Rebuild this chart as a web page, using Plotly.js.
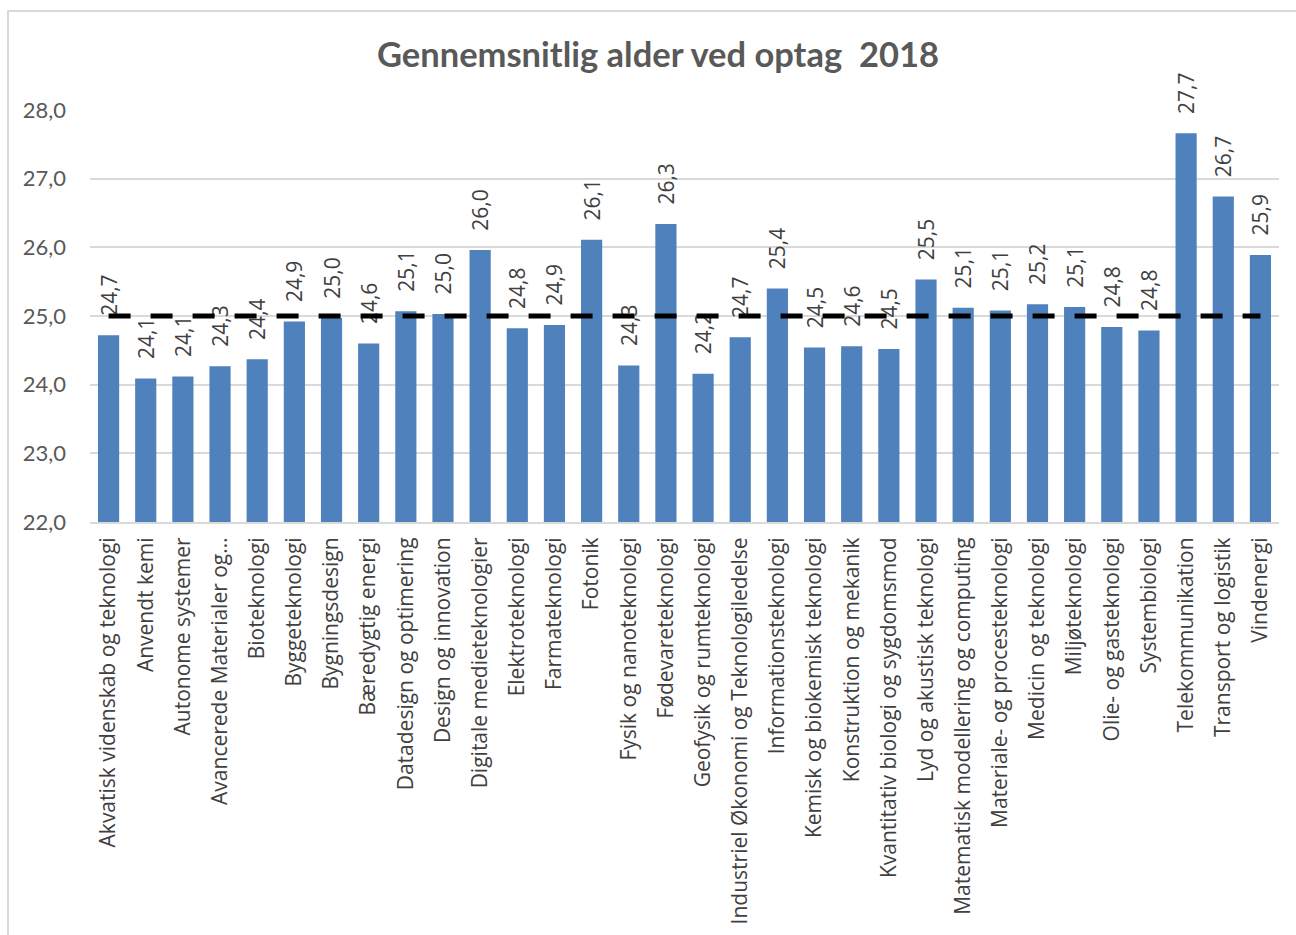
<!DOCTYPE html>
<html>
<head>
<meta charset="utf-8">
<script src="https://cdn.plot.ly/plotly-3.0.1.min.js"></script>
<style>
  html, body { margin: 0; padding: 0; background: #ffffff; }
  #wrap { position: relative; width: 1296px; height: 935px; overflow: hidden; }
  #chart { width: 1296px; height: 935px; }
  #frame { position: absolute; left: 7px; top: 10px; width: 1310px; height: 940px;
           border: 2px solid #d9d9d9; box-sizing: border-box; pointer-events: none; }
</style>
</head>
<body>
<div id="wrap">
  <div id="chart"></div>
  <div id="frame"></div>
</div>
<script>
const categories = [
  "Akvatisk videnskab og teknologi",
  "Anvendt kemi",
  "Autonome systemer",
  "Avancerede Materialer og…",
  "Bioteknologi",
  "Byggeteknologi",
  "Bygningsdesign",
  "Bæredygtig energi",
  "Datadesign og optimering",
  "Design og innovation",
  "Digitale medieteknologier",
  "Elektroteknologi",
  "Farmateknologi",
  "Fotonik",
  "Fysik og nanoteknologi",
  "Fødevareteknologi",
  "Geofysik og rumteknologi",
  "Industriel Økonomi og Teknologiledelse",
  "Informationsteknologi",
  "Kemisk og biokemisk teknologi",
  "Konstruktion og mekanik",
  "Kvantitativ biologi og sygdomsmod",
  "Lyd og akustisk teknologi",
  "Matematisk modellering og computing",
  "Materiale- og procesteknologi",
  "Medicin og teknologi",
  "Miljøteknologi",
  "Olie- og gasteknologi",
  "Systembiologi",
  "Telekommunikation",
  "Transport og logistik",
  "Vindenergi"
];

const meanAge = [
  24.72, 24.09, 24.12, 24.27, 24.37, 24.92, 24.97, 24.60,
  25.07, 25.03, 25.96, 24.82, 24.87, 26.11, 24.28, 26.34,
  24.16, 24.69, 25.40, 24.54, 24.56, 24.52, 25.53, 25.12,
  25.08, 25.17, 25.13, 24.84, 24.79, 27.66, 26.74, 25.89
];

const overallMean = [
  25.0, 25.0, 25.0, 25.0, 25.0, 25.0, 25.0, 25.0,
  25.0, 25.0, 25.0, 25.0, 25.0, 25.0, 25.0, 25.0,
  25.0, 25.0, 25.0, 25.0, 25.0, 25.0, 25.0, 25.0,
  25.0, 25.0, 25.0, 25.0, 25.0, 25.0, 25.0, 25.0
];

const yTicks = [22, 23, 24, 25, 26, 27, 28];
const titleText = "Gennemsnitlig alder ved optag  2018";

const bars = {
  type: "bar",
  x: categories,
  y: meanAge,
  marker: { color: "#4f81bd" },
  texttemplate: "\u00a0\u00a0\u00a0%{y:.1f}",
  textposition: "outside",
  textangle: -90,
  constraintext: "none",
  cliponaxis: false,
  textfont: { family: "Open Sans, sans-serif", size: 21, color: "#404040" },
  hoverinfo: "x+y",
  showlegend: false
};

const meanLine = {
  type: "scatter",
  mode: "lines",
  x: categories,
  y: overallMean,
  line: { color: "#000000", width: 5, dash: "22px,20px" },
  hoverinfo: "y",
  showlegend: false
};

const layout = {
  width: 1296,
  height: 935,
  paper_bgcolor: "#ffffff",
  plot_bgcolor: "#ffffff",
  separators: ",.",
  margin: { l: 90, r: 17, t: 110, b: 413 },
  bargap: 0.43,
  title: {
    text: titleText,
    font: { family: "Lato, sans-serif", size: 34.5, color: "#595959", weight: "bold" },
    xref: "container", x: 0.5077, xanchor: "center",
    yref: "container", y: 0.941, yanchor: "middle"
  },
  xaxis: {
    type: "category",
    tickangle: -90,
    tickfont: { family: "Open Sans, sans-serif", size: 21, color: "#404040" },
    showline: true,
    linecolor: "#d9d9d9",
    linewidth: 2,
    ticks: "",
    ticklabelstandoff: 5,
    showgrid: false,
    fixedrange: true
  },
  yaxis: {
    range: [22, 28],
    tickvals: yTicks,
    tickformat: ".1f",
    tickfont: { family: "Lato, sans-serif", size: 22, color: "#595959" },
    showgrid: true,
    gridcolor: "#d9d9d9",
    gridwidth: 2,
    zeroline: false,
    showline: false,
    ticks: "",
    ticklabelstandoff: 23,
    fixedrange: true
  }
};

Plotly.newPlot("chart", [bars, meanLine], layout, { displayModeBar: false, staticPlot: true });
</script>
</body>
</html>
